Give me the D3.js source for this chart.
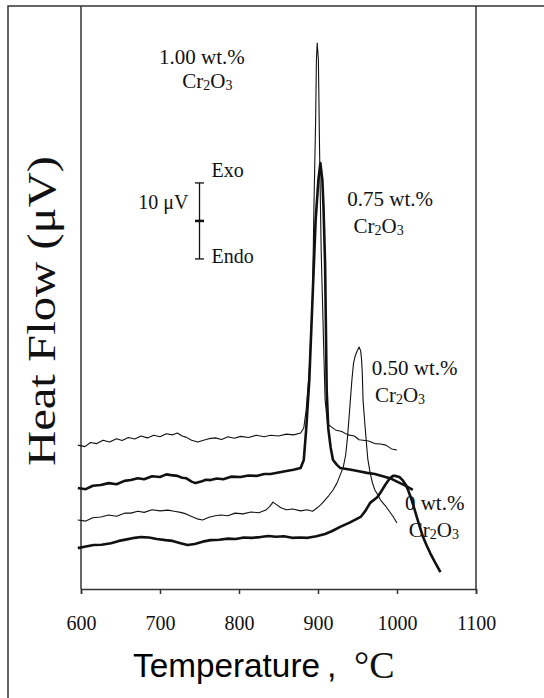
<!DOCTYPE html>
<html>
<head>
<meta charset="utf-8">
<script src="https://cdn.jsdelivr.net/npm/d3@7"></script>
<style>
  body { margin: 0; background: #fff; }
  .serif { font-family: "Liberation Serif", "Times New Roman", serif; fill: #111; }
  .sans { font-family: "Liberation Sans", Arial, sans-serif; fill: #000; }
</style>
</head>
<body>
<script>
// Define SVG area dimensions
var svgWidth = 544;
var svgHeight = 698;

// DTA curves: [temperature (°C), heat flow (μV, offset)]
var curve100 = [[596,37.6],[605,37.2],[612,38.3],[620,38.0],[628,38.9],[636,38.4],[645,39.3],[652,38.8],[660,39.6],[668,39.2],[676,40.0],[684,39.5],[692,40.2],[700,39.8],[708,40.6],[716,40.3],[722,40.8],[728,40.0],[733,39.7],[740,38.9],[748,38.4],[755,38.9],[762,39.3],[770,39.5],[778,39.1],[786,39.8],[794,39.4],[802,39.9],[812,39.6],[822,40.2],[832,39.8],[840,40.2],[850,40.0],[860,40.5],[869,40.3],[878,40.8],[882,42.1],[885,46.8],[889,57.4],[893,75.8],[895,102],[897,123],[898,139],[899,143.4],[900.5,139],[902,115],[904,89],[907,65],[909,49.5],[912,43.2],[917,42.4],[922,41.6],[930,41.2],[938,40.3],[946,40.0],[952,39.0],[957,38.9],[964,38.7],[972,38.0],[979,37.9],[986,37.6],[993,36.6],[1000,36.3]];
var curve075 = [[596,26.3],[606,26.0],[615,26.9],[625,27.1],[635,27.6],[645,27.3],[655,28.2],[663,28.4],[672,28.9],[680,28.6],[690,29.4],[700,29.2],[708,29.9],[714,29.7],[722,29.5],[728,29.0],[733,28.9],[740,28.0],[745,27.6],[752,28.0],[758,28.5],[764,28.4],[772,28.8],[780,28.6],[790,29.3],[802,29.2],[812,29.6],[822,29.5],[832,30.0],[840,30.0],[850,30.4],[860,30.8],[869,31.1],[878,31.6],[882,33.7],[885,41.6],[889,54.7],[893,75.8],[897,96.8],[900.5,107.4],[903,111.8],[905.5,107.4],[907,100],[909,85],[911,52],[913,42],[916,37],[919,33.7],[924,32.4],[928,31.6],[940,31.2],[950,30.8],[962,30.3],[972,30.0],[982,29.4],[991,28.9],[1000,28.0],[1010,27.0],[1020,25.8]];
var curve050 = [[596,17.9],[606,17.6],[615,18.5],[625,18.7],[635,19.2],[645,18.9],[655,19.7],[663,19.7],[672,20.2],[680,19.9],[690,20.6],[700,20.3],[710,20.5],[718,20.2],[726,19.9],[733,19.5],[740,18.8],[747,18.2],[754,17.9],[762,18.6],[770,19.0],[777,19.2],[786,19.0],[795,19.7],[805,19.5],[815,20.0],[825,19.8],[834,20.5],[839,21.5],[843,22.6],[847,22.0],[853,21.1],[860,20.6],[868,20.8],[878,20.3],[886,20.6],[893,20.2],[899,21.1],[904,22.0],[909,23.2],[914,24.4],[919,25.8],[924,27.6],[928,29.7],[932,31.8],[935,35.0],[937,38.9],[939,44],[941,49.5],[943,55],[945,59.2],[947,61],[949,62.1],[952,63.4],[954,62.4],[955,60.5],[956,57],[957,49.5],[959,44],[961,38.9],[963,34],[966,30.3],[969,27.6],[972,25.8],[976,24.4],[979,23.2],[985,21.7],[991,20.0],[995,18.8],[1000,17.1]];
var curve000 = [[596,10.5],[606,10.9],[616,11.3],[626,11.4],[638,11.8],[648,12.4],[658,12.8],[668,13.2],[676,13.4],[686,13.3],[696,12.9],[707,12.6],[716,12.4],[726,11.8],[735,11.3],[744,11.6],[754,12.2],[764,12.6],[775,12.7],[786,13.0],[796,12.9],[806,13.3],[816,13.2],[827,13.4],[837,13.7],[847,13.5],[857,13.6],[867,13.2],[877,13.3],[887,13.2],[898,13.6],[909,14.2],[918,15.0],[928,16.1],[940,17.2],[954,18.7],[960,20.3],[966,22.4],[975,23.9],[980,25.4],[985,27.1],[991,28.9],[995,29.5],[998,29.5],[1003,29.2],[1007,28.4],[1011,27.2],[1014,25.8],[1018,23.5],[1022,20.8],[1025,18.7],[1029,16.0],[1033,13.4],[1038,11.0],[1042,9.2],[1048,6.8],[1055,4.2]];

// x tick values
var xTicks = [600, 700, 800, 900, 1000, 1100];

// curve labels: text, anchor point [temperature, heat flow]
var labelNames = ["1.00 wt.%", "0.75 wt.%", "0.50 wt.%", "0 wt.%"];
var labelPos = [[[753, 138], [760, 131.5]], [[937, 100.5], [945, 93.5]], [[968, 56], [972, 49]], [[1010, 20.5], [1015, 13.5]]];

// scale bar: 10 μV per half
var barCenter = [750, 96.6];
var barHalf = 10;

var svg = d3.select("body")
  .append("svg")
  .attr("width", svgWidth)
  .attr("height", svgHeight);

// Scales
var xScale = d3.scaleLinear().domain([600, 1100]).range([81, 476]);
var yScale = d3.scaleLinear().domain([0, 153]).range([588, 6.6]);
var axisY = 589;

// outer frame
svg.append("path")
  .attr("d", `M8,${svgHeight} V6 H${svgWidth}`)
  .attr("fill", "none")
  .attr("stroke", "#333")
  .attr("stroke-width", 1.5);

// plot side lines
[600, 1100].forEach(function(t) {
  svg.append("line")
    .attr("x1", xScale(t)).attr("x2", xScale(t))
    .attr("y1", 6).attr("y2", axisY)
    .attr("stroke", "#333")
    .attr("stroke-width", 1.5);
});

// bottom axis
var xAxis = d3.axisBottom(xScale)
  .tickValues(xTicks)
  .tickFormat(d3.format("d"))
  .tickSize(5)
  .tickPadding(22);
var gx = svg.append("g")
  .attr("transform", `translate(0, ${axisY})`)
  .call(xAxis);
gx.select(".domain").attr("stroke", "#333").attr("stroke-width", 1.5);
gx.selectAll(".tick line").attr("stroke", "#333").attr("stroke-width", 1.5);
gx.selectAll(".tick text")
  .attr("class", "serif")
  .attr("font-size", 20)
  .attr("fill", "#111");

// curves
var line = d3.line()
  .x(d => xScale(d[0]))
  .y(d => yScale(d[1]));

var curves = [
  { data: curve100, w: 1.1 },
  { data: curve075, w: 2.6 },
  { data: curve050, w: 1.1 },
  { data: curve000, w: 2.6 }
];

svg.selectAll(".curve")
  .data(curves)
  .enter()
  .append("path")
  .classed("curve", true)
  .attr("d", d => line(d.data))
  .attr("fill", "none")
  .attr("stroke", "#111")
  .attr("stroke-width", d => d.w)
  .attr("stroke-linejoin", "round");

// curve labels
labelNames.forEach(function(name, i) {
  var p1 = labelPos[i][0];
  var p2 = labelPos[i][1];
  var anchor = i === 0 ? "middle" : "start";
  svg.append("text")
    .attr("class", "serif")
    .attr("x", xScale(p1[0]))
    .attr("y", yScale(p1[1]))
    .attr("font-size", 21)
    .attr("text-anchor", anchor)
    .text(name);
  var t = svg.append("text")
    .attr("class", "serif")
    .attr("x", xScale(p2[0]))
    .attr("y", yScale(p2[1]))
    .attr("font-size", 21)
    .attr("text-anchor", anchor);
  t.append("tspan").text("Cr");
  t.append("tspan").attr("font-size", 14).attr("dy", 2).text("2");
  t.append("tspan").attr("dy", -2).text("O");
  t.append("tspan").attr("font-size", 14).attr("dy", 2).text("3");
});

// scale bar
var bx = xScale(barCenter[0]);
var bTop = yScale(barCenter[1] + barHalf);
var bMid = yScale(barCenter[1]);
var bBot = yScale(barCenter[1] - barHalf);
var bar = svg.append("g").attr("stroke", "#111").attr("stroke-width", 1.3);
bar.append("line").attr("x1", bx).attr("x2", bx).attr("y1", bTop).attr("y2", bBot);
bar.append("line").attr("x1", bx - 4.5).attr("x2", bx + 4.5).attr("y1", bTop).attr("y2", bTop);
bar.append("line").attr("x1", bx - 4.5).attr("x2", bx + 4.5).attr("y1", bBot).attr("y2", bBot);
bar.append("line").attr("x1", bx - 4.5).attr("x2", bx + 4.5).attr("y1", bMid).attr("y2", bMid).attr("stroke-width", 2.5);

svg.append("text").attr("class", "serif").attr("font-size", 20)
  .attr("x", bx + 12).attr("y", bTop - 6).text("Exo");
svg.append("text").attr("class", "serif").attr("font-size", 20)
  .attr("x", bx + 12).attr("y", bBot + 4).text("Endo");
svg.append("text").attr("class", "serif").attr("font-size", 20)
  .attr("x", bx - 11).attr("y", (bTop + bMid) / 2 + 7)
  .attr("text-anchor", "end").text("10 μV");

// axis titles
svg.append("text")
  .attr("class", "serif")
  .attr("transform", "translate(55, 311) rotate(-90)")
  .attr("text-anchor", "middle")
  .attr("font-size", 40)
  .attr("textLength", 310)
  .attr("lengthAdjust", "spacingAndGlyphs")
  .text("Heat Flow (μV)");

svg.append("text")
  .attr("class", "sans")
  .attr("x", 133)
  .attr("y", 677)
  .attr("font-size", 34)
  .attr("textLength", 187)
  .attr("lengthAdjust", "spacingAndGlyphs")
  .text("Temperature");
svg.append("text")
  .attr("class", "sans")
  .attr("x", 327)
  .attr("y", 677)
  .attr("font-size", 34)
  .text(",");
svg.append("text")
  .attr("class", "serif")
  .attr("x", 354)
  .attr("y", 678)
  .attr("font-size", 38)
  .attr("fill", "#111")
  .text("°C");
</script>
</body>
</html>
